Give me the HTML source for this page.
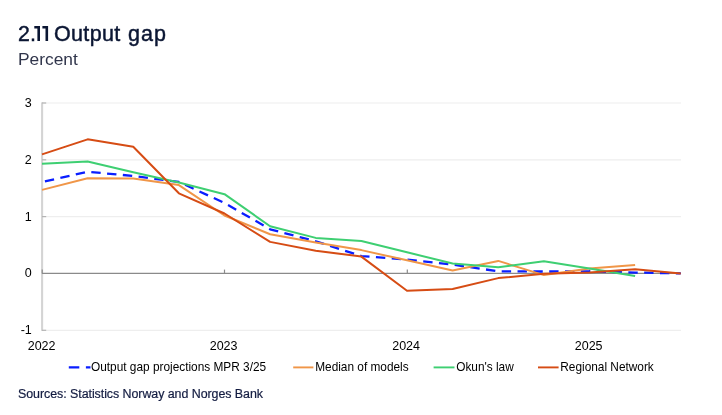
<!DOCTYPE html>
<html><head><meta charset="utf-8"><title>2.11 Output gap</title>
<style>
html,body{margin:0;padding:0;background:#fff;}
body{width:722px;height:415px;position:relative;overflow:hidden;font-family:"Liberation Sans",sans-serif;}
.t{position:absolute;white-space:nowrap;line-height:1;will-change:transform;}
.ti{top:23.5px;font-size:21.5px;color:#0b1633;-webkit-text-stroke:0.45px #0b1633;}
#sub{left:17.6px;top:52.3px;font-size:16px;color:#30354b;transform:scaleX(1.085);transform-origin:0 0;}
#src{left:17.7px;top:388.1px;font-size:12.45px;color:#121b40;-webkit-text-stroke:0.2px #121b40;letter-spacing:-0.06px;}
svg{position:absolute;left:0;top:0;will-change:transform;}
svg text{font-family:"Liberation Sans",sans-serif;font-size:12.5px;fill:#000;}
svg .lg text{font-size:11.85px;}
</style></head><body>
<div class="t ti" style="left:17.5px;font-size:21.3px;top:23.9px">2</div>
<div class="t ti" style="left:29.6px;">.</div>
<div class="t ti" style="left:54.1px;letter-spacing:0.33px">Output</div>
<div class="t ti" style="left:127.6px;letter-spacing:1.05px">gap</div>
<div class="t" id="sub">Percent</div>
<svg width="722" height="415" viewBox="0 0 722 415">
<g fill="#0b1633"><path d="M34.3 26H40V41.1H37.4V28.5H34.3Z"/><path d="M42.4 26H48.1V41.1H45.5V28.5H42.4Z"/></g>
<g stroke="#eeeeee" stroke-width="1.2">
<line x1="42" x2="681" y1="103.0" y2="103.0"/>
<line x1="42" x2="681" y1="159.8" y2="159.8"/>
<line x1="42" x2="681" y1="216.6" y2="216.6"/>
<line x1="42" x2="681" y1="330.3" y2="330.3"/>
</g>
<line x1="42.1" x2="42.1" y1="102.4" y2="330.9" stroke="#d4d4d4" stroke-width="2.1"/>
<g stroke="#b4b4b4" stroke-width="1.2">
<line x1="42" x2="46.2" y1="103.0" y2="103.0"/>
<line x1="42" x2="46.2" y1="159.8" y2="159.8"/>
<line x1="42" x2="46.2" y1="216.6" y2="216.6"/>
<line x1="42" x2="46.2" y1="330.3" y2="330.3"/>
</g>
<g stroke="#8a8a8a" stroke-width="1.2">
<line x1="42" x2="681" y1="273.4" y2="273.4"/>
<line x1="42.2" x2="42.2" y1="269.6" y2="273.4"/>
<line x1="224.5" x2="224.5" y1="269.6" y2="273.4"/>
<line x1="407.3" x2="407.3" y1="269.6" y2="273.4"/>
<line x1="589.6" x2="589.6" y1="269.6" y2="273.4"/>
</g>
<g fill="none" stroke-width="2" stroke-linejoin="round">
<polyline stroke="#0a1eff" stroke-width="2.3" stroke-dasharray="9.4,6.43" stroke-dashoffset="-3" points="42.00,182.12 87.62,171.73 133.25,175.99 178.88,181.95 224.50,202.97 270.12,229.27 315.75,241.31 361.38,256.08 407.00,259.60 452.62,264.60 498.25,271.30 543.88,271.53 589.50,271.41 635.12,272.55 680.75,273.40"/>
<polyline stroke="#f09648" points="42.00,189.90 87.62,178.26 133.25,178.54 178.88,185.08 224.50,215.46 270.12,234.21 315.75,242.44 361.38,250.11 407.00,260.34 452.62,270.56 498.25,260.90 543.88,275.10 589.50,268.40 635.12,264.99"/>
<polyline stroke="#3ecf72" points="42.00,163.78 87.62,161.50 133.25,172.30 178.88,182.52 224.50,194.16 270.12,226.26 315.75,237.90 361.38,241.02 407.00,252.27 452.62,263.57 498.25,267.27 543.88,261.24 589.50,268.57 635.12,275.96"/>
<polyline stroke="#d64c14" points="42.00,154.40 87.62,139.35 133.25,146.74 178.88,193.31 224.50,213.48 270.12,241.88 315.75,250.68 361.38,256.59 407.00,290.72 452.62,289.02 498.25,278.11 543.88,273.80 589.50,272.55 635.12,269.14 680.75,273.40"/>
</g>
<g text-anchor="end"><text x="31.75" y="106.9">3</text><text x="31.75" y="163.7">2</text><text x="31.75" y="220.5">1</text><text x="31.75" y="277.3">0</text><text x="31.75" y="334.2">-1</text></g>
<g text-anchor="middle">
<text x="41.6" y="350.2">2022</text><text x="223.6" y="350.2">2023</text><text x="406.1" y="350.2">2024</text><text x="588.65" y="350.2">2025</text>
</g>
<g stroke-width="1.9" fill="none">
<line x1="68.8" x2="90.5" y1="367.4" y2="367.4" stroke="#0a1eff" stroke-width="2.2" stroke-dasharray="10.5,6.6"/>
<line x1="293.2" x2="313.4" y1="367.4" y2="367.4" stroke="#f09648"/>
<line x1="433.6" x2="454.5" y1="367.4" y2="367.4" stroke="#3ecf72"/>
<line x1="538" x2="558.6" y1="367.4" y2="367.4" stroke="#d64c14"/>
</g>
<g class="lg">
<text x="91" y="370.5">Output gap projections MPR 3/25</text>
<text x="315.2" y="370.5">Median of models</text>
<text x="456.2" y="370.5">Okun's law</text>
<text x="560.3" y="370.5">Regional Network</text>
</g>
</svg>
<div class="t" id="src">Sources: Statistics Norway and Norges Bank</div>
</body></html>
